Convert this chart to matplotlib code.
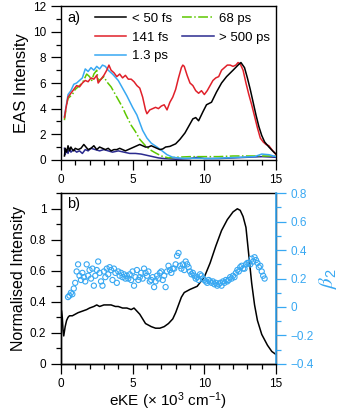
import numpy as np
import matplotlib
matplotlib.use("Agg")
import matplotlib.pyplot as plt
from matplotlib.ticker import MultipleLocator

plt.rcParams['font.family'] = ['Liberation Sans', 'DejaVu Sans']
plt.rcParams['mathtext.default'] = 'regular'

# ---- panel a) EAS spectra ----
x_50fs = [0.25, 0.3, 0.4, 0.5, 0.6, 0.7, 0.8, 0.9, 1.0, 1.2, 1.4, 1.6, 1.75, 1.9, 2.1,
          2.3, 2.5, 2.7, 2.9, 3.1, 3.3, 3.5, 3.7, 3.9, 4.1, 4.3, 4.5, 4.7, 4.9, 5.1,
          5.3, 5.5, 5.7, 5.9, 6.1, 6.3, 6.5, 6.7, 6.9, 7.1, 7.3, 7.6, 8.0, 8.3, 8.65,
          8.9, 9.2, 9.4, 9.6, 9.9, 10.15, 10.5, 10.85, 11.2, 11.55, 12.0, 12.35, 12.55, 12.8, 13.0,
          13.2, 13.4, 13.6, 13.8, 14.0, 14.2, 14.5, 14.8, 15.0]
y_50fs = [0.3, 0.9, 0.6, 1.1, 0.7, 1.0, 0.8, 0.7, 0.9, 0.8, 0.9, 1.2, 1.0, 0.8, 0.9,
          1.1, 0.8, 1.0, 0.9, 0.8, 0.9, 0.7, 0.8, 0.8, 0.9, 0.8, 0.7, 0.8, 0.9, 1.0,
          1.1, 1.2, 1.1, 1.0, 1.0, 1.1, 1.0, 0.9, 0.8, 0.85, 1.0, 1.05, 1.25, 1.6, 2.1,
          2.6, 3.2, 3.3, 3.05, 3.75, 4.3, 4.5, 5.3, 6.0, 6.5, 7.0, 7.4, 7.6, 7.2, 6.4,
          5.5, 4.5, 3.5, 2.6, 1.9, 1.4, 1.0, 0.65, 0.45]

x_141fs = [0.25, 0.35, 0.5, 0.7, 0.9, 1.1, 1.3, 1.5, 1.7, 1.9, 2.1, 2.3, 2.5, 2.6, 2.8,
           3.0, 3.2, 3.35, 3.5, 3.7, 3.9, 4.1, 4.3, 4.5, 4.7, 4.9, 5.1, 5.3, 5.5, 5.7,
           5.9, 6.0, 6.2, 6.4, 6.6, 6.8, 7.0, 7.2, 7.4, 7.6, 7.8, 8.0, 8.2, 8.4, 8.5,
           8.6, 8.8, 9.0, 9.2, 9.4, 9.6, 9.8, 10.0, 10.2, 10.4, 10.6, 10.8, 11.0, 11.2, 11.4,
           11.6, 11.8, 12.0, 12.2, 12.35, 12.5, 12.7, 12.9, 13.1, 13.3, 13.5, 13.7, 13.9, 14.1, 14.3,
           14.5, 14.7, 15.0]
y_141fs = [3.3, 4.0, 4.9, 5.2, 5.5, 5.8, 5.7, 6.0, 6.2, 6.1, 6.4, 6.3, 6.6, 6.0, 6.3,
           6.6, 7.0, 7.4, 7.0, 6.8, 6.5, 6.7, 6.4, 6.6, 6.3, 6.3, 6.1, 5.8, 5.6, 4.9,
           3.9, 3.6, 3.9, 4.0, 4.1, 4.0, 4.2, 4.3, 3.9, 4.5, 4.9, 5.5, 6.4, 7.2, 7.4,
           7.3, 6.6, 6.0, 5.8, 5.4, 5.2, 5.4, 5.1, 5.4, 5.8, 6.2, 6.4, 6.5, 7.0, 7.2,
           7.4, 7.4, 7.3, 7.4, 7.6, 7.5, 7.0, 6.0, 5.1, 4.3, 3.4, 2.5, 1.7, 1.4, 1.2,
           1.1, 0.8, 0.4]

x_1p3ps = [0.25, 0.4, 0.5, 0.7, 0.9, 1.1, 1.3, 1.5, 1.7, 1.9, 2.1, 2.3, 2.5, 2.7, 2.9,
           3.1, 3.3, 3.6, 4.0, 4.3, 4.6, 5.0, 5.3, 5.7, 6.0, 6.3, 6.7, 7.0, 7.4, 7.8,
           8.5, 9.5, 10.5, 11.5, 12.5, 13.5, 14.0, 14.5, 15.0]
y_1p3ps = [3.4, 4.4, 5.1, 5.4, 5.9, 6.0, 6.2, 6.4, 7.1, 6.9, 7.2, 7.0, 7.3, 7.1, 7.4,
           7.3, 7.0, 6.7, 6.2, 5.6, 5.0, 4.1, 3.5, 2.3, 1.7, 1.3, 1.0, 0.75, 0.4, 0.2,
           0.12, 0.12, 0.1, 0.15, 0.2, 0.25, 0.45, 0.4, 0.25]

x_68ps = [0.25, 0.4, 0.5, 0.8, 1.0, 1.2, 1.5, 1.8, 2.0, 2.15, 2.3, 2.5, 2.6, 2.8, 3.0,
          3.2, 3.5, 3.8, 4.0, 4.3, 4.5, 4.9, 5.2, 5.5, 5.9, 6.2, 6.5, 7.0, 7.5, 8.0,
          9.0, 10.0, 11.0, 12.0, 13.0, 14.0, 15.0]
y_68ps = [3.1, 4.3, 4.8, 5.1, 5.5, 5.7, 6.0, 6.7, 6.5, 6.2, 6.7, 7.0, 6.2, 6.3, 6.5,
          6.1, 5.7, 5.1, 4.7, 4.1, 3.6, 2.7, 2.2, 1.6, 1.1, 0.8, 0.6, 0.3, 0.15, 0.2,
          0.25, 0.25, 0.25, 0.3, 0.3, 0.3, 0.3]

x_500ps = [0.25, 0.3, 0.4, 0.5, 0.6, 0.7, 0.9, 1.1, 1.3, 1.5, 1.7, 1.9, 2.1, 2.4, 2.7,
           3.0, 3.3, 3.6, 4.0, 4.4, 4.8, 5.2, 5.6, 6.0, 6.4, 6.8, 7.2, 8.0, 9.0, 9.5,
           10.0, 11.0, 12.0, 13.0, 14.0, 15.0]
y_500ps = [0.9, 0.4, 0.8, 0.5, 0.9, 0.6, 0.8, 0.6, 0.7, 0.5, 0.8, 0.7, 0.9, 0.8, 0.7,
           0.8, 0.7, 0.6, 0.7, 0.6, 0.5, 0.5, 0.45, 0.35, 0.25, 0.15, 0.1, 0.05, 0.1, 0.2,
           0.1, 0.1, 0.15, 0.2, 0.25, 0.2]

# ---- panel b) normalised spectrum + beta2 ----
x_norm = [0.05, 0.1, 0.15, 0.2, 0.3, 0.4, 0.5, 0.6, 0.8, 1.0, 1.2, 1.5, 1.8, 2.0, 2.3,
          2.5, 2.7, 3.0, 3.3, 3.5, 3.8, 4.0, 4.3, 4.6, 4.9, 5.1, 5.3, 5.5, 5.7, 5.9,
          6.1, 6.3, 6.6, 6.9, 7.2, 7.5, 7.8, 8.0, 8.2, 8.4, 8.6, 9.0, 9.5, 10.0, 10.4,
          10.8, 11.2, 11.6, 12.0, 12.3, 12.5, 12.7, 12.9, 13.1, 13.3, 13.5, 13.7, 14.0, 14.4, 14.7,
          15.0]
y_norm = [0.34, 0.30, 0.22, 0.18, 0.24, 0.28, 0.30, 0.31, 0.31, 0.32, 0.33, 0.34, 0.35, 0.36, 0.37,
          0.38, 0.37, 0.38, 0.38, 0.38, 0.37, 0.37, 0.36, 0.36, 0.35, 0.36, 0.34, 0.32, 0.29, 0.26,
          0.25, 0.24, 0.23, 0.23, 0.24, 0.26, 0.29, 0.33, 0.38, 0.43, 0.46, 0.48, 0.50, 0.56, 0.65,
          0.76, 0.86, 0.93, 0.98, 1.0, 0.99, 0.95, 0.88, 0.70, 0.52, 0.38, 0.28, 0.19, 0.12, 0.08,
          0.06]

x_beta = np.round(np.arange(0.5, 14.25, 0.1), 1)
beta2 = [0.07, 0.08, 0.10, 0.09, 0.13, 0.17, 0.25, 0.30, 0.22, 0.19,
         0.24, 0.21, 0.18, 0.30, 0.22, 0.26, 0.20, 0.27, 0.15, 0.22,
         0.26, 0.32, 0.24, 0.18, 0.15, 0.25, 0.21, 0.27, 0.23, 0.28,
         0.26, 0.19, 0.27, 0.24, 0.17, 0.25, 0.22, 0.24, 0.21, 0.23,
         0.20, 0.22, 0.20, 0.23, 0.19, 0.25, 0.15, 0.21, 0.26, 0.19,
         0.21, 0.24, 0.20, 0.27, 0.24, 0.22, 0.25, 0.18, 0.19, 0.21,
         0.14, 0.18, 0.22, 0.20, 0.24, 0.25, 0.19, 0.22, 0.14, 0.25,
         0.29, 0.26, 0.24, 0.27, 0.27, 0.30, 0.36, 0.38, 0.29, 0.27,
         0.30, 0.26, 0.32, 0.30, 0.28, 0.25, 0.23, 0.24, 0.22, 0.20,
         0.21, 0.19, 0.23, 0.22, 0.20, 0.19, 0.18, 0.17, 0.19, 0.18,
         0.17, 0.18, 0.16, 0.17, 0.15, 0.16, 0.17, 0.15, 0.18, 0.17,
         0.19, 0.18, 0.19, 0.21, 0.20, 0.22, 0.21, 0.24, 0.26, 0.25,
         0.28, 0.29, 0.27, 0.27, 0.30, 0.31, 0.31, 0.30, 0.34, 0.32,
         0.35, 0.33, 0.31, 0.28, 0.29, 0.25, 0.22, 0.20]

red = '#e0202a'
lblue = '#38a8f2'
green = '#5ec800'
navy = '#2b2b8f'

fig = plt.figure(figsize=(3.4, 4.13), dpi=100)
ax1 = fig.add_axes([0.179, 0.613, 0.633, 0.372])
ax2 = fig.add_axes([0.179, 0.119, 0.633, 0.413])

lw = 1.1
ax1.plot(x_500ps, y_500ps, color=navy, lw=lw, label='> 500 ps', zorder=2)
ax1.plot(x_68ps, y_68ps, color=green, lw=lw, ls='-.', label='68 ps', zorder=3)
ax1.plot(x_1p3ps, y_1p3ps, color=lblue, lw=lw, label='1.3 ps', zorder=4)
ax1.plot(x_141fs, y_141fs, color=red, lw=lw, label='141 fs', zorder=5)
ax1.plot(x_50fs, y_50fs, color='black', lw=lw, label='< 50 fs', zorder=6)

h, l = ax1.get_legend_handles_labels()
order = [4, 3, 2, 1, 0]
ax1.legend([h[i] for i in order], [l[i] for i in order], ncol=2, frameon=False,
           fontsize=9.5, loc='upper right', bbox_to_anchor=(1.01, 1.01),
           handlelength=2.4, handletextpad=0.4, columnspacing=0.8, labelspacing=0.5,
           borderaxespad=0.2)

ax1.set_xlim(0, 15)
ax1.set_ylim(0, 12)
ax1.xaxis.set_major_locator(MultipleLocator(5))
ax1.xaxis.set_minor_locator(MultipleLocator(1))
ax1.yaxis.set_major_locator(MultipleLocator(2))
ax1.yaxis.set_minor_locator(MultipleLocator(1))
ax1.set_ylabel('EAS Intensity', fontsize=12, labelpad=3)
ax1.text(0.03, 0.97, 'a)', transform=ax1.transAxes, fontsize=10.5, va='top')

ax2.plot(x_norm, y_norm, color='black', lw=lw)
ax2.set_xlim(0, 15)
ax2.set_ylim(0, 1.1)
ax2.xaxis.set_major_locator(MultipleLocator(5))
ax2.xaxis.set_minor_locator(MultipleLocator(1))
ax2.yaxis.set_minor_locator(MultipleLocator(0.1))
ax2.set_yticks([0, 0.2, 0.4, 0.6, 0.8, 1.0])
ax2.set_yticklabels(['0', '0.2', '0.4', '0.6', '0.8', '1'])
ax2.set_ylabel('Normalised Intensity', fontsize=11.5, labelpad=3)
ax2.set_xlabel('eKE (× 10$^3$ cm$^{-1}$)', fontsize=11, labelpad=0)
ax2.text(0.03, 0.98, 'b)', transform=ax2.transAxes, fontsize=10.5, va='top')

ax3 = ax2.twinx()
ax3.scatter(x_beta, beta2, s=14, facecolors='none', edgecolors=lblue, linewidths=0.8)
ax3.set_ylim(-0.4, 0.8)
ax3.yaxis.set_minor_locator(MultipleLocator(0.1))
ax3.set_yticks([-0.4, -0.2, 0, 0.2, 0.4, 0.6, 0.8])
ax3.set_yticklabels(['\u22120.4', '\u22120.2', '0', '0.2', '0.4', '0.6', '0.8'])
ax3.spines['right'].set_color(lblue)
ax3.tick_params(axis='y', which='both', colors=lblue)
ax3.set_ylabel(r'$\mathit{\beta}_2$', color=lblue, fontsize=15, labelpad=2,
               math_fontfamily='stix')
ax3.spines['top'].set_visible(False)

for ax in (ax1, ax2, ax3):
    ax.tick_params(which='major', direction='out', length=7, width=0.9, labelsize=8.5)
    ax.tick_params(which='minor', direction='out', length=3.5, width=0.9)
    for s in ax.spines.values():
        s.set_linewidth(1.0)
ax1.tick_params(which='both', top=False, right=False)
ax2.tick_params(which='both', top=False, right=False)
ax3.spines['right'].set_linewidth(1.2)

fig.savefig('out.png', dpi=100)
